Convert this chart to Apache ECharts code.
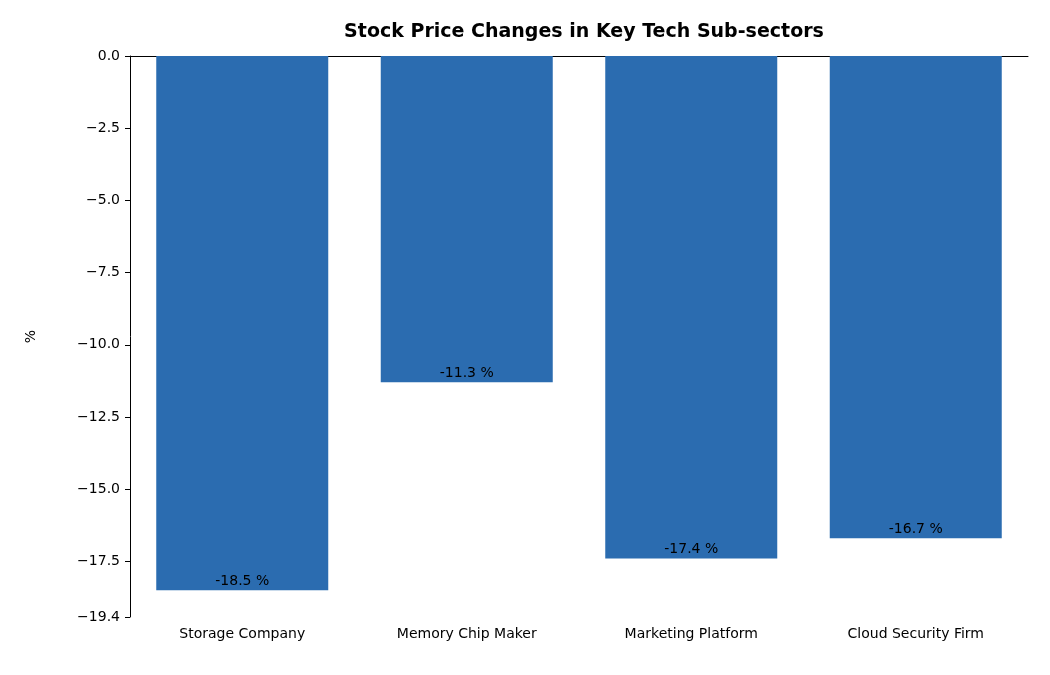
<!DOCTYPE html>
<html>
<head>
<meta charset="utf-8">
<script src="https://cdn.jsdelivr.net/npm/echarts@6/dist/echarts.min.js"></script>
<style>html,body{margin:0;background:#fff}#c{width:1050px;height:675px}</style>
</head>
<body>
<div id="c"></div>
<script>
const categories = ['Storage Company', 'Memory Chip Maker', 'Marketing Platform', 'Cloud Security Firm'];
const changes = [-18.5, -11.3, -17.4, -16.7];
const yMin = -19.425;

const font = 'DejaVu Sans';
const chart = echarts.init(document.getElementById('c'));
chart.setOption({
  animation: false,
  title: {
    text: 'Stock Price Changes in Key Tech Sub-sectors',
    left: 579, top: 18, textAlign: 'center',
    textStyle: { fontFamily: font, fontSize: 19, fontWeight: 'bold', color: '#000' }
  },
  grid: { left: 130, right: 22, top: 56, bottom: 58 },
  xAxis: {
    type: 'category', data: categories,
    axisLine: { lineStyle: { color: '#000' } },
    axisTick: { alignWithLabel: true, length: 5, lineStyle: { color: '#000' } },
    axisLabel: { fontFamily: font, fontSize: 14, color: '#000', margin: 10 }
  },
  yAxis: [
    { type: 'value', min: yMin, max: 0, show: false, splitLine: { show: false } },
    {
      type: 'value', inverse: true, min: 0, max: -yMin, interval: 2.5, position: 'left',
      name: '%', nameLocation: 'middle', nameGap: 92,
      nameTextStyle: { fontFamily: font, fontSize: 14, color: '#000' },
      axisLine: { show: true, lineStyle: { color: '#000' } },
      axisTick: { show: true, length: 5, lineStyle: { color: '#000' } },
      splitLine: { show: false },
      axisLabel: {
        fontFamily: font, fontSize: 14, color: '#000', margin: 10,
        formatter: v => v === 0 ? '0.0' : '\u2212' + v.toFixed(1)
      }
    }
  ],
  series: [{
    type: 'bar', yAxisIndex: 0, data: changes, barWidth: 172,
    itemStyle: { color: '#2b6cb0' },
    label: {
      show: true, position: 'insideBottom', distance: 2,
      fontFamily: font, fontSize: 14, color: '#000',
      formatter: p => p.value.toFixed(1) + ' %'
    }
  }]
});
</script>
</body>
</html>
